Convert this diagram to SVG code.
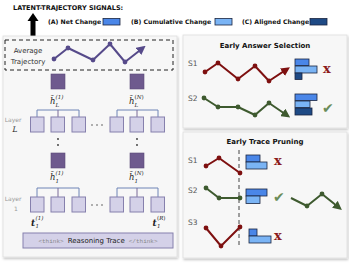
<svg xmlns="http://www.w3.org/2000/svg" width="349" height="269" viewBox="0 0 349 269">
<style>
.sans{font-family:"DejaVu Sans","Verdana",sans-serif}
.b{font-weight:bold}
.title{font-family:"DejaVu Sans",sans-serif;font-weight:bold;font-size:6.5px;fill:#111}
.leg{font-family:"DejaVu Sans",sans-serif;font-weight:bold;font-size:6.2px;fill:#111}
.ptitle{font-family:"DejaVu Sans",sans-serif;font-weight:bold;font-size:7px;fill:#111}
.panel{fill:#f7f7f7;stroke:#dedede;stroke-width:0.8}
.tok{fill:#d4d1e8;stroke:#8680ad;stroke-width:1}
.hid{fill:#6e5a8e;stroke:#5b4a78;stroke-width:0.6}
.tree{fill:none;stroke:#6f84b6;stroke-width:1}
.treem{fill:none;stroke:#7a6a98;stroke-width:1}
.math{font-family:"DejaVu Serif","Liberation Serif",serif;font-style:italic;fill:#222}
.sm{font-size:5.5px}
.gray{font-family:"DejaVu Sans",sans-serif;fill:#999;font-size:6px}
.slab{font-family:"DejaVu Sans",sans-serif;fill:#555;font-size:7.5px}
.avg{fill:none;stroke:#564a8a;stroke-width:2;stroke-linejoin:round}
.red{fill:none;stroke:#7e1010;stroke-width:2;stroke-linejoin:round}
.grn{fill:none;stroke:#3e5a2f;stroke-width:2;stroke-linejoin:round}
.net{fill:#4a86e8;stroke:#1a2540;stroke-width:0.8}
.cum{fill:#7ab4f5;stroke:#1a2540;stroke-width:0.8}
.ali{fill:#1e4a85;stroke:#1a2540;stroke-width:0.8}
.xm{font-family:"DejaVu Serif","Liberation Serif",serif;font-weight:bold;font-size:13px;fill:#8b1a1a}
.ck{font-family:"DejaVu Sans",sans-serif;font-size:14px;fill:#6a8c5a}
</style>
<defs>
<filter id="sh" x="-5%" y="-5%" width="115%" height="115%">
<feDropShadow dx="0.8" dy="1.5" stdDeviation="1" flood-color="#000" flood-opacity="0.25"/>
</filter>
<marker id="ma" viewBox="0 0 10 10" refX="7" refY="5" markerWidth="9" markerHeight="9" markerUnits="userSpaceOnUse" orient="auto"><path d="M0,0 L10,5 L0,10 z" fill="#564a8a"/></marker>
<marker id="mr" viewBox="0 0 10 10" refX="7" refY="5" markerWidth="9" markerHeight="9" markerUnits="userSpaceOnUse" orient="auto"><path d="M0,0 L10,5 L0,10 z" fill="#7e1010"/></marker>
<marker id="mg" viewBox="0 0 10 10" refX="7" refY="5" markerWidth="9" markerHeight="9" markerUnits="userSpaceOnUse" orient="auto"><path d="M0,0 L10,5 L0,10 z" fill="#3e5a2f"/></marker>
</defs>
<rect width="349" height="269" fill="#ffffff"/>

<!-- header / legend -->
<g id="header">
<text class="title" x="13" y="10">LATENT-TRAJECTORY SIGNALS:</text>
<polygon points="33,13 38.5,21 35.5,21 35.5,36 30.5,36 30.5,21 27.5,21" fill="#000"/>
<text class="leg" x="48" y="24">(A) Net Change</text>
<rect class="net" x="103" y="18.5" width="17" height="6.5"/>
<text class="leg" x="131" y="24">(B) Cumulative Change</text>
<rect class="cum" x="215" y="18.5" width="17" height="6.5"/>
<text class="leg" x="242" y="24">(C) Aligned Change</text>
<rect class="ali" x="310" y="18.5" width="17" height="6.5"/>
</g>

<!-- panels -->
<g id="panel-left" filter="url(#sh)"><rect class="panel" x="3" y="36" width="174" height="221"/></g>
<g id="panel-eas" filter="url(#sh)"><rect class="panel" x="183" y="35" width="164" height="93"/></g>
<g id="panel-etp" filter="url(#sh)"><rect class="panel" x="183" y="132" width="164" height="126"/></g>

<!-- average trajectory -->
<g id="avg-traj">
<rect x="5" y="40" width="168" height="30" fill="none" stroke="#222" stroke-width="1" stroke-dasharray="4 3"/>
<text class="sans" x="28" y="53" font-size="7" text-anchor="middle" fill="#333">Average</text>
<text class="sans" x="28" y="64" font-size="7" text-anchor="middle" fill="#333">Trajectory</text>
<polyline class="avg" points="54,59 68,48 93,60 110,44 125,62 143.5,47.5" marker-end="url(#ma)"/>
<g fill="#564a8a"><circle cx="54" cy="59" r="2.4"/><circle cx="68" cy="48" r="2.4"/><circle cx="93" cy="60" r="2.4"/><circle cx="110" cy="44" r="2.4"/><circle cx="125" cy="62" r="2.4"/></g>
</g>

<!-- connectors (trees) -->
<g id="connectors">
<path class="tree" d="M37,117 V110 H79 V117"/>
<path class="treem" d="M58,110 V117"/>
<path class="tree" d="M117,117 V110 H158 V117"/>
<path class="treem" d="M137,110 V117"/>
<path class="tree" d="M37,197 V188 H79 V197"/>
<path class="treem" d="M58,188 V197"/>
<path class="tree" d="M117,197 V188 H158 V197"/>
<path class="treem" d="M137,188 V197"/>
</g>

<!-- hidden state h_L -->
<g id="hL1"><rect class="hid" x="51" y="74" width="14" height="15"/>
<text class="math" x="50" y="104" font-size="8.5">h&#772;</text>
<text class="math sm" x="55.5" y="99" font-style="normal">(1)</text>
<text class="math sm" x="55.5" y="107">L</text></g>
<g id="hLN"><rect class="hid" x="130" y="74" width="14" height="15"/>
<text class="math" x="129" y="104" font-size="8.5">h&#772;</text>
<text class="math sm" x="134.5" y="99"><tspan font-style="normal">(</tspan>N<tspan font-style="normal">)</tspan></text>
<text class="math sm" x="134.5" y="107">L</text></g>

<!-- layer L tokens -->
<g id="layerL">
<text class="gray" x="13" y="122" text-anchor="middle">Layer</text>
<text class="math" x="15" y="132" font-size="7.5" text-anchor="middle" fill="#888">L</text>
<rect class="tok" x="30.5" y="117" width="13.5" height="15"/>
<rect class="tok" x="51" y="117" width="13.5" height="15"/>
<rect class="tok" x="72" y="117" width="13.5" height="15"/>
<g fill="#555"><circle cx="92" cy="125" r="0.8"/><circle cx="97" cy="125" r="0.8"/><circle cx="102" cy="125" r="0.8"/></g>
<rect class="tok" x="110" y="117" width="13.5" height="15"/>
<rect class="tok" x="130" y="117" width="13.5" height="15"/>
<rect class="tok" x="151" y="117" width="13.5" height="15"/>
</g>

<!-- vertical dots -->
<g id="vdots" fill="#333">
<circle cx="58" cy="139" r="0.9"/><circle cx="58" cy="145" r="0.9"/>
<circle cx="137" cy="139" r="0.9"/><circle cx="137" cy="145" r="0.9"/>
</g>

<!-- hidden state h_1 -->
<g id="h11"><rect class="hid" x="51" y="153" width="14" height="15"/>
<text class="math" x="50" y="180" font-size="8.5">h&#772;</text>
<text class="math sm" x="55.5" y="175" font-style="normal">(1)</text>
<text class="math sm" x="55.5" y="183" font-style="normal">1</text></g>
<g id="h1N"><rect class="hid" x="130" y="153" width="14" height="15"/>
<text class="math" x="129" y="180" font-size="8.5">h&#772;</text>
<text class="math sm" x="134.5" y="175"><tspan font-style="normal">(</tspan>N<tspan font-style="normal">)</tspan></text>
<text class="math sm" x="134.5" y="183" font-style="normal">1</text></g>

<!-- layer 1 tokens -->
<g id="layer1">
<text class="gray" x="13" y="201" text-anchor="middle">Layer</text>
<text class="gray" x="16" y="211" text-anchor="middle" font-size="6.5">1</text>
<rect class="tok" x="30.5" y="197" width="13.5" height="15"/>
<rect class="tok" x="51" y="197" width="13.5" height="15"/>
<rect class="tok" x="72" y="197" width="13.5" height="15"/>
<g fill="#555"><circle cx="92" cy="205" r="0.8"/><circle cx="97" cy="205" r="0.8"/><circle cx="102" cy="205" r="0.8"/></g>
<rect class="tok" x="110" y="197" width="13.5" height="15"/>
<rect class="tok" x="130" y="197" width="13.5" height="15"/>
<rect class="tok" x="151" y="197" width="13.5" height="15"/>
<text class="math" x="31" y="226" font-size="9" font-weight="bold">t</text>
<text class="math sm" x="35.5" y="220" font-style="normal">(1)</text>
<text class="math sm" x="35.5" y="228" font-style="normal">1</text>
<text class="math" x="152.5" y="226" font-size="9" font-weight="bold">t</text>
<text class="math sm" x="157" y="220"><tspan font-style="normal">(</tspan>R<tspan font-style="normal">)</tspan></text>
<text class="math sm" x="157" y="228" font-style="normal">1</text>
</g>

<!-- reasoning trace -->
<g id="trace">
<rect class="tok" x="23" y="233" width="150" height="15"/>
<text x="98" y="243" text-anchor="middle"><tspan font-family="Liberation Mono, DejaVu Sans Mono, monospace" font-size="6" fill="#888">&lt;think&gt;</tspan><tspan font-family="DejaVu Sans, sans-serif" font-size="7" fill="#222" dx="4">Reasoning Trace</tspan><tspan font-family="Liberation Mono, DejaVu Sans Mono, monospace" font-size="6" fill="#888" dx="4">&lt;/think&gt;</tspan></text>
</g>

<!-- Early Answer Selection -->
<g id="eas">
<text class="ptitle" x="265" y="47.5" text-anchor="middle">Early Answer Selection</text>
<text class="slab" x="188" y="66">S1</text>
<polyline class="red" points="205,72 218,63 238,79 255,66 269,81 287.7,68.7" marker-end="url(#mr)"/>
<g fill="#7e1010"><circle cx="205" cy="72" r="2.4"/><circle cx="218" cy="63" r="2.4"/><circle cx="238" cy="79" r="2.4"/><circle cx="255" cy="66" r="2.4"/><circle cx="269" cy="81" r="2.4"/></g>
<rect class="net" x="295" y="59" width="14" height="6.5"/>
<rect class="cum" x="295" y="66" width="22" height="7"/>
<rect class="ali" x="295" y="73" width="7" height="6.5"/>
<text class="xm" x="323" y="73">x</text>
<text class="slab" x="188" y="101">S2</text>
<polyline class="grn" points="204,98 218,107 238,107 255,115 269,103 288,116" marker-end="url(#mg)"/>
<g fill="#3e5a2f"><circle cx="204" cy="98" r="2.4"/><circle cx="218" cy="107" r="2.4"/><circle cx="238" cy="107" r="2.4"/><circle cx="255" cy="115" r="2.4"/><circle cx="269" cy="103" r="2.4"/></g>
<rect class="net" x="295" y="94" width="22" height="6.5"/>
<rect class="cum" x="295" y="101" width="15" height="6.5"/>
<rect class="ali" x="295" y="108" width="17" height="7"/>
<text class="ck" x="322" y="113">&#10004;</text>
</g>

<!-- Early Trace Pruning -->
<g id="etp">
<text class="ptitle" x="265" y="144" text-anchor="middle">Early Trace Pruning</text>
<line x1="239" y1="150" x2="239" y2="247" stroke="#444" stroke-width="1" stroke-dasharray="4 3"/>
<text class="slab" x="188" y="163">S1</text>
<polyline class="red" points="206,166 219,158 240,173"/>
<g fill="#7e1010"><circle cx="206" cy="166" r="2.4"/><circle cx="219" cy="158" r="2.4"/><circle cx="240" cy="173" r="2.4"/></g>
<rect class="net" x="246" y="155" width="14" height="7"/>
<rect class="cum" x="246" y="162" width="21" height="7"/>
<text class="xm" x="274" y="165">x</text>
<text class="slab" x="188" y="193">S2</text>
<polyline class="grn" points="206,188 219,198 240,198"/>
<g fill="#3e5a2f"><circle cx="206" cy="188" r="2.4"/><circle cx="219" cy="198" r="2.4"/><circle cx="240" cy="198" r="2.4"/></g>
<rect class="net" x="246" y="189" width="21" height="7"/>
<rect class="cum" x="246" y="196" width="14" height="7.5"/>
<text class="ck" x="273" y="202">&#10004;</text>
<polyline class="grn" points="291,198 307,206 322,194 339.8,208.3" marker-end="url(#mg)"/>
<g fill="#3e5a2f"><circle cx="307" cy="206" r="2.4"/><circle cx="322" cy="194" r="2.4"/></g>
<text class="slab" x="188" y="225">S3</text>
<polyline class="red" points="206,228 221,246 240,227"/>
<g fill="#7e1010"><circle cx="206" cy="228" r="2.4"/><circle cx="221" cy="246" r="2.4"/><circle cx="240" cy="227" r="2.4"/></g>
<rect class="net" x="249" y="229" width="8" height="7"/>
<rect class="cum" x="249" y="236" width="22" height="7"/>
<text class="xm" x="274" y="240">x</text>
</g>
</svg>
